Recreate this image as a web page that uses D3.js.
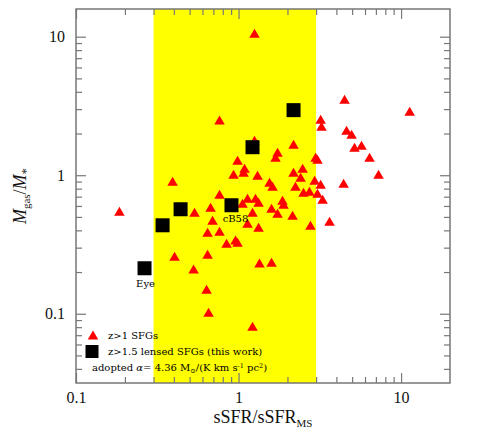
<!DOCTYPE html>
<meta charset="utf-8">
<style>
  body { margin: 0; background: #fff; }
  text { font-family: "Liberation Serif", serif; fill: #111; }
  .small { font-family: "DejaVu Serif", serif; font-size: 10px; fill: #000; }
</style>
<script src="https://d3js.org/d3.v7.min.js"></script>
<div id="chart"></div>
<script>

// z>1 SFGs (red triangles)
var sfgX = [0.185, 0.393, 0.764, 0.986, 1.089, 1.074, 0.932, 1.309, 0.764, 1.136,
            1.272, 1.328, 1.058, 0.673, 0.536, 0.692, 0.645, 0.764, 0.844, 0.958,
            0.986, 1.136, 1.219, 1.328, 0.404, 0.645, 0.529, 0.636, 0.654, 1.219,
            1.346, 1.596, 1.254, 1.254, 2.18, 1.738, 1.689, 2.98, 3.06, 2.18,
            2.48, 2.41, 1.551, 1.619, 2.24, 2.94, 3.20, 2.51, 2.73, 3.06,
            3.29, 1.865, 1.892, 1.596, 1.738, 2.15, 2.77, 3.63, 4.49, 11.3,
            3.20, 3.24, 4.62, 4.96, 5.17, 5.71, 6.40, 7.27, 4.43];
var sfgY = [0.550, 0.905, 2.50, 1.283, 1.123, 1.051, 1.017, 1.0, 0.729, 0.682,
            0.682, 0.638, 0.628, 0.588, 0.541, 0.473, 0.388, 0.394, 0.323, 0.340,
            0.328, 0.450, 0.541, 0.421, 0.260, 0.269, 0.210, 0.150, 0.1025, 0.0812,
            0.232, 0.235, 10.6, 1.79, 1.674, 1.466, 1.349, 1.349, 1.305, 1.051,
            1.123, 0.967, 0.890, 0.833, 0.833, 0.920, 0.861, 0.754, 0.766, 0.741,
            0.671, 0.660, 0.618, 0.578, 0.532, 0.514, 0.435, 0.466, 3.54, 2.90,
            2.54, 2.26, 2.11, 1.977, 1.593, 1.647, 1.349, 1.017, 0.876];

// z>1.5 lensed SFGs (black squares)
var lensX = [0.264, 0.341, 0.440, 0.905, 1.219, 2.18];
var lensY = [0.213, 0.435, 0.568, 0.607, 1.593, 2.95];
var lensName = ["Eye", "", "", "cB58", "", ""];

// main sequence band
var bandLo = 0.3, bandHi = 3;

var xMajor = [0.1, 1, 10];
var yMajor = [0.1, 1, 10];
var tickLabel = { 0.1: "0.1", 1: "1", 10: "10" };

var W = 491, H = 436;
var margin = {top: 9, right: 41, bottom: 53, left: 76},
    width = W - margin.left - margin.right,
    height = H - margin.top - margin.bottom;

var svg = d3.select("#chart").append("svg")
    .attr("width", W)
    .attr("height", H)
  .append("g")
    .attr("transform", "translate(" + margin.left + "," + margin.top + ")");

var x = d3.scaleLog().domain([0.1, 20]).range([0, width]);
var y = d3.scaleLog().domain([Math.pow(10, -1.5), Math.pow(10, 1.2)]).range([height, 0]);

// yellow band
svg.append("rect")
  .attr("x", x(bandLo))
  .attr("y", 0)
  .attr("width", x(bandHi) - x(bandLo))
  .attr("height", height)
  .attr("fill", "#ffff00");

// triangle path centred on its box
function tri(w, h) {
  return "M" + (-w / 2) + "," + (h / 2) + "L" + (w / 2) + "," + (h / 2) + "L0," + (-h / 2) + "Z";
}

svg.selectAll(".sfg")
  .data(d3.range(sfgX.length))
  .enter()
  .append("path")
    .attr("class", "sfg")
    .attr("d", tri(10.5, 9))
    .attr("fill", "#ff0000")
    .attr("transform", function(i) { return "translate(" + x(sfgX[i]) + "," + y(sfgY[i]) + ")"; });

var sq = 14;
svg.selectAll(".lens")
  .data(d3.range(lensX.length))
  .enter()
  .append("rect")
    .attr("class", "lens")
    .attr("x", function(i) { return x(lensX[i]) - sq / 2; })
    .attr("y", function(i) { return y(lensY[i]) - sq / 2; })
    .attr("width", sq)
    .attr("height", sq)
    .attr("fill", "#000");

// labels for the named lenses
svg.append("text")
  .attr("class", "small")
  .attr("x", x(lensX[0]) + 1)
  .attr("y", y(lensY[0]) + 19)
  .attr("text-anchor", "middle")
  .text(lensName[0]);
svg.append("text")
  .attr("class", "small")
  .attr("x", x(lensX[3]) + 4)
  .attr("y", y(lensY[3]) + 17)
  .attr("text-anchor", "middle")
  .text(lensName[3]);

// axes: ticks point into the frame on all four sides
var axisCol = "#777";
var xMinor = x.ticks().filter(function(v) { return xMajor.indexOf(v) < 0 && v < 19; });
var yMinor = y.ticks().filter(function(v) { return yMajor.indexOf(v) < 0; });

function drawAxis(axis, tr, vals, size, labels) {
  var g = svg.append("g")
    .attr("transform", tr)
    .call(axis.tickValues(vals).tickSize(-size).tickPadding(labels ? 10 : 0)
      .tickFormat(function(d) { return labels ? tickLabel[d] : ""; }));
  g.select(".domain").remove();
  g.selectAll("line").attr("stroke", axisCol).attr("stroke-width", 1.2);
  g.selectAll("text").style("font-family", "Liberation Serif, serif").style("font-size", "16px").attr("fill", "#111");
  return g;
}

drawAxis(d3.axisBottom(x), "translate(0," + height + ")", xMajor, 10, true)
  .selectAll("text").attr("y", 9);
drawAxis(d3.axisBottom(x), "translate(0," + height + ")", xMinor, 6, false);
drawAxis(d3.axisTop(x), "translate(0,0)", xMajor, 10, false);
drawAxis(d3.axisTop(x), "translate(0,0)", xMinor, 6, false);
drawAxis(d3.axisLeft(y), "translate(0,0)", yMajor, 10, true)
  .selectAll("text").attr("x", -11);
drawAxis(d3.axisLeft(y), "translate(0,0)", yMinor, 6, false);
drawAxis(d3.axisRight(y), "translate(" + width + ",0)", yMajor, 10, false);
drawAxis(d3.axisRight(y), "translate(" + width + ",0)", yMinor, 6, false);

// frame
svg.append("rect")
  .attr("width", width)
  .attr("height", height)
  .attr("fill", "none")
  .attr("stroke", axisCol)
  .attr("stroke-width", 1.5);

// axis titles
var xt = svg.append("text")
  .attr("x", width / 2)
  .attr("y", height + 40)
  .attr("text-anchor", "middle")
  .style("font-size", "18px");
xt.append("tspan").text("sSFR/sSFR");
xt.append("tspan").attr("dy", 4).style("font-size", "11px").text("MS");

var yt = svg.append("text")
  .attr("transform", "translate(" + (-50) + "," + (height / 2) + ") rotate(-90)")
  .attr("text-anchor", "middle")
  .style("font-size", "18px");
yt.append("tspan").style("font-style", "italic").text("M");
yt.append("tspan").attr("dy", 4).style("font-size", "11px").text("gas");
yt.append("tspan").attr("dy", -4).text("/");
yt.append("tspan").style("font-style", "italic").text("M");
yt.append("tspan").attr("dy", 4).style("font-size", "13px").text("*");

// legend
var lg = svg.append("g").attr("transform", "translate(0," + (height - 57) + ")");
lg.append("path").attr("d", tri(10.5, 9)).attr("fill", "#ff0000")
  .attr("transform", "translate(17,9)");
lg.append("text").attr("class", "small").attr("x", 32).attr("y", 12.5).text("z>1 SFGs");
lg.append("rect").attr("x", 9.5).attr("y", 19).attr("width", 13).attr("height", 13).attr("fill", "#000");
lg.append("text").attr("class", "small").attr("x", 32).attr("y", 28.5).text("z>1.5 lensed SFGs (this work)");
var at = lg.append("text").attr("class", "small").attr("x", 16).attr("y", 44.5);
at.append("tspan").text("adopted ");
at.append("tspan").style("font-style", "italic").text("α");
at.append("tspan").text("= 4.36 M");
at.append("tspan").attr("dy", 2).style("font-size", "6.5px").text("⊙");
at.append("tspan").attr("dy", -2).text("/(K km s");
at.append("tspan").attr("dy", -3).style("font-size", "6.5px").text("-1");
at.append("tspan").attr("dy", 3).text(" pc");
at.append("tspan").attr("dy", -3).style("font-size", "6.5px").text("2");
at.append("tspan").attr("dy", 3).text(")");

</script>
